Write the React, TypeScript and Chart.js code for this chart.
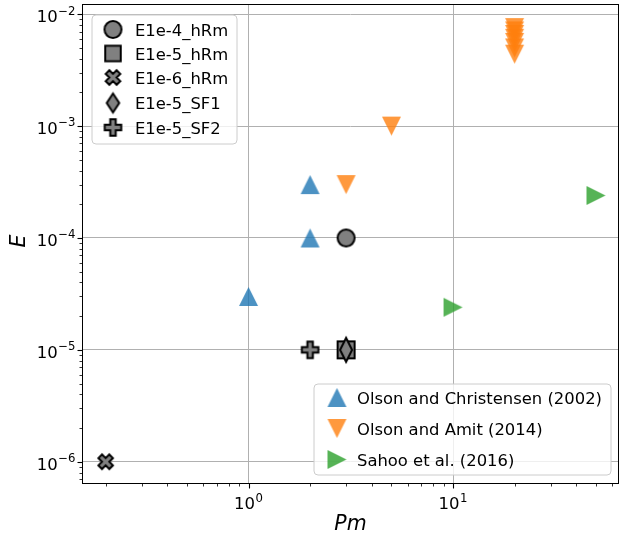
import React, { useEffect, useRef } from 'react';
import { Chart, registerables } from 'chart.js';

Chart.register(...registerables);

// ---------------- data ----------------
const literatureNames = ['Olson and Christensen (2002)', 'Olson and Amit (2014)', 'Sahoo et al. (2016)'];
const olsonChristensenPm = [1, 2, 2];
const olsonChristensenE = [3e-5, 1e-4, 3e-4];
const olsonAmitPm = [3, 5, 20, 20, 20, 20, 20, 20, 20];
const olsonAmitE = [3e-4, 1e-3, 7.6e-3, 7.1e-3, 6.6e-3, 6.1e-3, 5.6e-3, 5.0e-3, 4.4e-3];
const sahooPm = [10, 50];
const sahooE = [2.4e-5, 2.4e-4];

const runNames = ['E1e-4_hRm', 'E1e-5_hRm', 'E1e-6_hRm', 'E1e-5_SF1', 'E1e-5_SF2'];
const runShapes = ['circle', 'square', 'xfilled', 'diamond', 'plus'];
const runPm = [3, 3, 0.2, 3, 2];
const runE = [1e-4, 1e-5, 1e-6, 1e-5, 1e-5];

const xMajorTicks = [1, 10];
const xTickExponents = ['0', '1'];
const yMajorTicks = [1e-6, 1e-5, 1e-4, 1e-3, 1e-2];
const yTickExponents = ['\u22126', '\u22125', '\u22124', '\u22123', '\u22122'];
const xLabel = 'Pm';
const yLabel = 'E';

const X_MIN = 0.155;
const X_MAX = 64.1;
const Y_MIN = 6.45e-7;
const Y_MAX = 0.0121;

// ---------------- markers ----------------
function makeMarker(shape: string, w: number, h: number, fill: string, stroke: string | null, lw: number): HTMLCanvasElement {
  const pad = Math.ceil(lw) + 1;
  const cw = Math.ceil(w) + pad * 2;
  const ch = Math.ceil(h) + pad * 2;
  const c = document.createElement('canvas');
  c.width = cw;
  c.height = ch;
  const ctx = c.getContext('2d')!;
  ctx.translate(cw / 2, ch / 2);
  const hw = w / 2;
  const hh = h / 2;
  ctx.beginPath();
  if (shape === 'circle') {
    ctx.arc(0, 0, hw, 0, Math.PI * 2);
  } else if (shape === 'square') {
    ctx.rect(-hw, -hh, w, h);
  } else if (shape === 'diamond') {
    ctx.moveTo(0, -hh);
    ctx.lineTo(hw, 0);
    ctx.lineTo(0, hh);
    ctx.lineTo(-hw, 0);
    ctx.closePath();
  } else if (shape === 'plus' || shape === 'xfilled') {
    const pts = [[-1, -3], [1, -3], [1, -1], [3, -1], [3, 1], [1, 1], [1, 3], [-1, 3], [-1, 1], [-3, 1], [-3, -1], [-1, -1]];
    const rot = shape === 'xfilled' ? Math.PI / 4 : 0;
    const scale = shape === 'xfilled' ? hw / (4 / Math.SQRT2) : hw / 3;
    pts.forEach((p, i) => {
      const x = (p[0] * Math.cos(rot) - p[1] * Math.sin(rot)) * scale;
      const y = (p[0] * Math.sin(rot) + p[1] * Math.cos(rot)) * scale;
      if (i === 0) ctx.moveTo(x, y);
      else ctx.lineTo(x, y);
    });
    ctx.closePath();
  } else if (shape === 'triUp') {
    ctx.moveTo(0, -hh);
    ctx.lineTo(hw, hh);
    ctx.lineTo(-hw, hh);
    ctx.closePath();
  } else if (shape === 'triDown') {
    ctx.moveTo(0, hh);
    ctx.lineTo(hw, -hh);
    ctx.lineTo(-hw, -hh);
    ctx.closePath();
  } else if (shape === 'triRight') {
    ctx.moveTo(hw, 0);
    ctx.lineTo(-hw, -hh);
    ctx.lineTo(-hw, hh);
    ctx.closePath();
  }
  ctx.fillStyle = fill;
  ctx.fill();
  if (stroke) {
    ctx.lineWidth = lw;
    ctx.strokeStyle = stroke;
    ctx.lineJoin = 'miter';
    ctx.stroke();
  }
  return c;
}

const GRAY = '#808080';
const EDGE = '#000000';

function runMarker(shape: string, legend: boolean): HTMLCanvasElement {
  switch (shape) {
    case 'circle':
      return makeMarker('circle', 17, 17, GRAY, EDGE, 2);
    case 'square':
      return legend ? makeMarker('square', 15.5, 15.5, GRAY, EDGE, 2) : makeMarker('square', 17, 17, GRAY, EDGE, 2);
    case 'xfilled':
      return makeMarker('xfilled', 14.5, 14.5, GRAY, EDGE, 2);
    case 'diamond':
      return legend ? makeMarker('diamond', 12.5, 19, GRAY, EDGE, 2) : makeMarker('diamond', 12, 24, GRAY, EDGE, 2);
    default:
      return makeMarker('plus', 16.5, 16.5, GRAY, EDGE, 2);
  }
}

const litShapes = ['triUp', 'triDown', 'triRight'];
const litColors = ['rgba(31,119,180,0.8)', 'rgba(255,127,14,0.8)', 'rgba(44,160,44,0.8)'];

function roundRect(ctx: CanvasRenderingContext2D, x: number, y: number, w: number, h: number, r: number) {
  ctx.beginPath();
  ctx.moveTo(x + r, y);
  ctx.lineTo(x + w - r, y);
  ctx.quadraticCurveTo(x + w, y, x + w, y + r);
  ctx.lineTo(x + w, y + h - r);
  ctx.quadraticCurveTo(x + w, y + h, x + w - r, y + h);
  ctx.lineTo(x + r, y + h);
  ctx.quadraticCurveTo(x, y + h, x, y + h - r);
  ctx.lineTo(x, y + r);
  ctx.quadraticCurveTo(x, y, x + r, y);
  ctx.closePath();
}

function minorValues(min: number, max: number): number[] {
  const out: number[] = [];
  for (let e = Math.floor(Math.log10(min)); e <= Math.ceil(Math.log10(max)); e++) {
    for (let m = 2; m <= 9; m++) {
      const v = m * Math.pow(10, e);
      if (v >= min && v <= max) out.push(v);
    }
  }
  return out;
}

export default function App() {
  const ref = useRef<HTMLCanvasElement | null>(null);

  useEffect(() => {
    if (!ref.current) return;
    const FONT = '"DejaVu Sans", Verdana, sans-serif';

    const litData = [
      olsonChristensenPm.map((x, i) => ({ x, y: olsonChristensenE[i] })),
      olsonAmitPm.map((x, i) => ({ x, y: olsonAmitE[i] })),
      sahooPm.map((x, i) => ({ x, y: sahooE[i] })),
    ];
    const litMarkers = litShapes.map((s, i) => makeMarker(s, 19, 19, litColors[i], null, 0));
    const runMarkersPlot = runShapes.map((s) => runMarker(s, false));
    const runMarkersLegend = runShapes.map((s) => runMarker(s, true));

    const datasets: any[] = [];
    runNames.forEach((name, i) => {
      datasets.push({
        label: name,
        data: [{ x: runPm[i], y: runE[i] }],
        pointStyle: runMarkersPlot[i],
        pointRadius: 10,
        order: runShapes[i] === 'diamond' ? 0 : 1,
      });
    });
    literatureNames.forEach((name, i) => {
      datasets.push({
        label: name,
        data: litData[i],
        pointStyle: litMarkers[i],
        pointRadius: 10,
        order: 5,
      });
    });

    const decorations = {
      id: 'decorations',
      afterDraw(chart: any) {
        const ctx: CanvasRenderingContext2D = chart.ctx;
        const { left, right, top, bottom } = chart.chartArea;
        const xs = chart.scales.x;
        const ys = chart.scales.y;
        ctx.save();

        // frame
        ctx.strokeStyle = '#000';
        ctx.lineWidth = 1;
        ctx.strokeRect(Math.round(left) - 0.5, Math.round(top) - 0.5, Math.round(right - left) + 1, Math.round(bottom - top) + 1);

        // ticks
        const drawXTick = (v: number, len: number, lw: number) => {
          const px = Math.round(xs.getPixelForValue(v)) + 0.5;
          ctx.lineWidth = lw;
          ctx.beginPath();
          ctx.moveTo(px, bottom + 0.5);
          ctx.lineTo(px, bottom + 0.5 + len);
          ctx.stroke();
        };
        const drawYTick = (v: number, len: number, lw: number) => {
          const py = Math.round(ys.getPixelForValue(v)) + 0.5;
          ctx.lineWidth = lw;
          ctx.beginPath();
          ctx.moveTo(left - 0.5, py);
          ctx.lineTo(left - 0.5 - len, py);
          ctx.stroke();
        };
        xMajorTicks.forEach((v) => drawXTick(v, 5, 1.1));
        minorValues(X_MIN, X_MAX).forEach((v) => drawXTick(v, 3, 0.8));
        yMajorTicks.forEach((v) => drawYTick(v, 5, 1.1));
        minorValues(Y_MIN, Y_MAX).forEach((v) => drawYTick(v, 3, 0.8));

        // tick labels
        ctx.fillStyle = '#000';
        ctx.textBaseline = 'alphabetic';
        ctx.textAlign = 'left';
        const mainFont = `16.5px ${FONT}`;
        const supFont = `11.7px ${FONT}`;
        xMajorTicks.forEach((v, i) => {
          const px = xs.getPixelForValue(v);
          ctx.font = mainFont;
          const w1 = ctx.measureText('10').width;
          ctx.font = supFont;
          const w2 = ctx.measureText(xTickExponents[i]).width;
          const start = px - (w1 + w2 + 0.5) / 2;
          ctx.font = mainFont;
          ctx.fillText('10', start, 509);
          ctx.font = supFont;
          ctx.fillText(xTickExponents[i], start + w1 + 0.5, 501.5);
        });
        yMajorTicks.forEach((v, i) => {
          const py = ys.getPixelForValue(v);
          ctx.font = mainFont;
          const w1 = ctx.measureText('10').width;
          ctx.font = supFont;
          const w2 = ctx.measureText(yTickExponents[i]).width;
          const end = left - 7.5;
          const start = end - w1 - w2 - 0.5;
          ctx.font = mainFont;
          ctx.fillText('10', start, py + 8);
          ctx.font = supFont;
          ctx.fillText(yTickExponents[i], start + w1 + 0.5, py + 0.3);
        });

        // axis labels
        ctx.font = `italic 20.5px ${FONT}`;
        ctx.textAlign = 'center';
        ctx.fillText(xLabel, (left + right) / 2, 530);
        ctx.save();
        ctx.translate(25, (top + bottom) / 2 - 3);
        ctx.rotate(-Math.PI / 2);
        ctx.fillText(yLabel, 0, 0);
        ctx.restore();

        // legend 1 (runs)
        roundRect(ctx, 92, 15, 145, 129, 4);
        ctx.fillStyle = 'rgba(255,255,255,0.8)';
        ctx.fill();
        ctx.strokeStyle = '#cccccc';
        ctx.lineWidth = 1;
        ctx.stroke();
        const rows1 = [29.5, 53.5, 77.5, 103, 127.5];
        ctx.font = `16.4px ${FONT}`;
        ctx.textAlign = 'left';
        ctx.fillStyle = '#000';
        runNames.forEach((name, i) => {
          const m = runMarkersLegend[i];
          ctx.drawImage(m, 113 - m.width / 2, rows1[i] - m.height / 2);
          ctx.fillText(name, 135, rows1[i] + 6);
        });

        // legend 2 (literature)
        roundRect(ctx, 314, 384, 297, 91, 4);
        ctx.fillStyle = 'rgba(255,255,255,0.8)';
        ctx.fill();
        ctx.strokeStyle = '#cccccc';
        ctx.stroke();
        const rows2 = [397.5, 428.5, 459.5];
        ctx.fillStyle = '#000';
        literatureNames.forEach((name, i) => {
          const m = litMarkers[i];
          ctx.drawImage(m, 337 - m.width / 2, rows2[i] - m.height / 2);
          ctx.fillText(name, 357, rows2[i] + 6.5);
        });

        ctx.restore();
      },
    };

    const chart = new Chart(ref.current, {
      type: 'scatter',
      data: { datasets },
      options: {
        animation: false,
        responsive: false,
        devicePixelRatio: 1,
        layout: { autoPadding: false, padding: { left: 0, right: 1, top: 5, bottom: 0 } },
        plugins: { legend: { display: false }, tooltip: { enabled: false } },
        scales: {
          x: {
            type: 'logarithmic',
            min: X_MIN,
            max: X_MAX,
            border: { display: false },
            grid: { color: '#b0b0b0', lineWidth: 1, drawTicks: false },
            ticks: { display: false, autoSkip: false },
            afterBuildTicks: (scale: any) => {
              scale.ticks = xMajorTicks.map((v) => ({ value: v }));
            },
            afterFit: (scale: any) => {
              scale.height = 52;
            },
          },
          y: {
            type: 'logarithmic',
            min: Y_MIN,
            max: Y_MAX,
            border: { display: false },
            grid: { color: '#b0b0b0', lineWidth: 1, drawTicks: false },
            ticks: { display: false, autoSkip: false },
            afterBuildTicks: (scale: any) => {
              scale.ticks = yMajorTicks.map((v) => ({ value: v }));
            },
            afterFit: (scale: any) => {
              scale.width = 83;
            },
          },
        },
      },
      plugins: [decorations],
    } as any);

    return () => chart.destroy();
  }, []);

  return (
    <div style={{ position: 'fixed', left: 0, top: 0, width: 619, height: 535, background: '#fff' }}>
      <canvas ref={ref} width={619} height={535} style={{ width: 619, height: 535, display: 'block' }} />
    </div>
  );
}
